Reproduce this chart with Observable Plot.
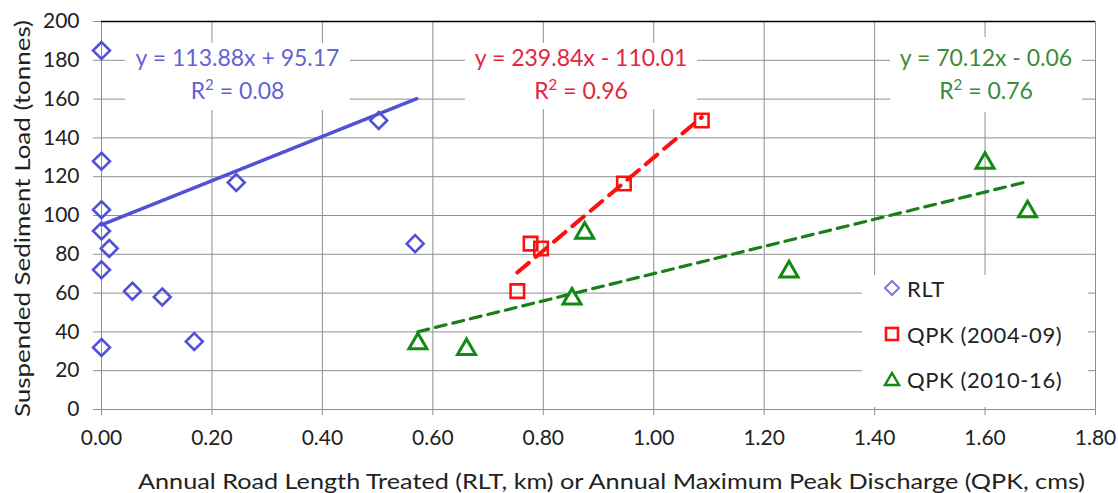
<!DOCTYPE html>
<html><head><meta charset="utf-8">
<script src="https://cdn.jsdelivr.net/npm/d3@7"></script>
<script src="https://cdn.jsdelivr.net/npm/@observablehq/plot@0.6"></script>
<style>
body{margin:0;background:#fff;}
#wrap{position:relative;width:1118px;height:493px;font-family:Lato,"Open Sans",sans-serif;}
#wrap svg{display:block}
.box{position:absolute;background:#fff;text-align:center;font-size:23px;line-height:33px;white-space:nowrap;}
.leg{position:absolute;background:#fff;}
.row{position:absolute;left:0;height:30px;display:flex;align-items:center;font-size:22px;letter-spacing:0.6px;color:#222;white-space:nowrap;}
.row svg{margin-left:21px;margin-right:6px}
</style>
</head><body><div id="wrap"></div>
<script>
// ---- data ----
const xTicks = [0, 0.2, 0.4, 0.6, 0.8, 1.0, 1.2, 1.4, 1.6, 1.8];
const yTicks = [0, 20, 40, 60, 80, 100, 120, 140, 160, 180, 200];
const seriesNames = ["RLT", "QPK (2004-09)", "QPK (2010-16)"];
const seriesColors = ["#5050d8", "#ff1010", "#118a11"];
const textColors = ["#6262d6", "#e3263b", "#3a8c3a"];

const rltX = [0, 0, 0, 0, 0.014, 0, 0.056, 0.110, 0, 0.168, 0.244, 0.502, 0.568];
const rltY = [185, 128, 103, 92, 83, 72, 61, 58, 32, 35, 117, 149, 85.5];
const qpk1X = [0.753, 0.777, 0.796, 0.946, 1.087];
const qpk1Y = [61, 85.5, 83, 116.5, 149];
const qpk2X = [0.573, 0.661, 0.852, 0.875, 1.245, 1.600, 1.677];
const qpk2Y = [34, 31, 57, 91, 71, 127, 102];

// trend line end points (as drawn)
const trendX = [[0, 0.571], [0.753, 1.087], [0.573, 1.68]];
const trendY = [[95.17, 160.2], [70.6, 150.7], [40.1, 117.7]];
const equations = ["y = 113.88x + 95.17", "y = 239.84x - 110.01", "y = 70.12x - 0.06"];
const rSquared = ["0.08", "0.96", "0.76"];

const xTitle = "Annual Road Length Treated (RLT, km) or Annual Maximum Peak Discharge (QPK, cms)";
const yTitle = "Suspended Sediment Load (tonnes)";

// ---- build ----
const pts = (xs, ys) => xs.map((x, i) => ({x, y: ys[i]}));
const trend = k => trendX[k].map((x, i) => ({x, y: trendY[k][i]}));
const grid = "#8f8f8f";

const plot = Plot.plot({
  width: 1118, height: 493,
  marginLeft: 101, marginRight: 23, marginTop: 21, marginBottom: 84,
  style: {fontFamily: "Lato, 'Open Sans', sans-serif", fontSize: "20px", color: "#222", background: "white", overflow: "visible"},
  x: {domain: [0, 1.8]},
  y: {domain: [0, 200]},
  marks: [
    Plot.gridX(xTicks, {stroke: grid, strokeOpacity: 1}),
    Plot.gridY(yTicks, {stroke: grid, strokeOpacity: 1}),
    Plot.axisX(xTicks, {tickFormat: d3.format(".2f"), tickSize: 6, tickPadding: 15, stroke: grid, fill: "#222", fontSize: 21, label: null}),
    Plot.axisY(yTicks, {tickSize: 8, tickPadding: 14, stroke: grid, fill: "#222", fontSize: 21, label: null}),
    Plot.ruleY([200], {stroke: "black", strokeWidth: 1.3}),
    Plot.text([xTitle], {frameAnchor: "bottom", dy: 79, dx: 13, fontSize: 22, fill: "#222"}),
    Plot.text([yTitle], {frameAnchor: "left", rotate: -90, textAnchor: "middle", dx: -79, dy: 3, fontSize: 22, fill: "#222"}),
    Plot.line(trend(0), {x: "x", y: "y", stroke: seriesColors[0], strokeWidth: 3.5}),
    Plot.line(trend(1), {x: "x", y: "y", stroke: seriesColors[1], strokeWidth: 4, strokeDasharray: "15,9"}),
    Plot.line(trend(2), {x: "x", y: "y", stroke: "#1a7f1a", strokeWidth: 3.2, strokeDasharray: "11,7"}),
    Plot.dot(pts(rltX, rltY), {x: "x", y: "y", symbol: "diamond2", r: 7.6, stroke: seriesColors[0], strokeWidth: 2.6}),
    Plot.dot(pts(qpk1X, qpk1Y), {x: "x", y: "y", symbol: "square2", r: 8.6, stroke: seriesColors[1], strokeWidth: 2.6}),
    Plot.dot(pts(qpk2X, qpk2Y), {x: "x", y: "y", symbol: "triangle2", r: 8.6, stroke: seriesColors[2], strokeWidth: 3})
  ]
});
// stretch the axis titles to the reference's widths
d3.select(plot).selectAll("text").each(function () {
  if (this.textContent === xTitle) d3.select(this).attr("textLength", 947).attr("lengthAdjust", "spacingAndGlyphs");
  if (this.textContent === yTitle) d3.select(this).attr("textLength", 397).attr("lengthAdjust", "spacingAndGlyphs");
});
const wrap = document.getElementById("wrap");
wrap.appendChild(plot);

// equation labels (white boxes over the grid)
const boxes = [
  {left: 125, top: 43, width: 225, height: 67},
  {left: 465, top: 43, width: 232, height: 66},
  {left: 890, top: 37, width: 192, height: 75}
];
const boxShift = [-2, -2, 4];
boxes.forEach((b, k) => {
  const d = document.createElement("div");
  d.className = "box";
  Object.assign(d.style, {left: b.left + "px", top: b.top + "px", width: b.width + "px", height: b.height + "px", color: textColors[k]});
  d.innerHTML = `<div style="position:relative;top:${boxShift[k]}px"><div>${equations[k]}</div><div>R<sup style="font-size:15px;line-height:0;vertical-align:9px">2</sup> = ${rSquared[k]}</div></div>`;
  wrap.appendChild(d);
});

// legend
const leg = document.createElement("div");
leg.className = "leg";
Object.assign(leg.style, {left: "862px", top: "275px", width: "226px", height: "132px"});
const swatches = [
  `<svg width="18" height="18"><path d="M9,2 L16,9 L9,16 L2,9Z" fill="none" stroke="#7a7ae0" stroke-width="2"/></svg>`,
  `<svg width="18" height="18"><rect x="3" y="3" width="12" height="12" fill="none" stroke="#ff1010" stroke-width="2.6"/></svg>`,
  `<svg width="18" height="18"><path d="M9,3 L16,15 L2,15Z" fill="none" stroke="#118a11" stroke-width="2.4"/></svg>`
];
const rowTop = [-2, 44, 89];
seriesNames.forEach((n, k) => {
  const r = document.createElement("div");
  r.className = "row";
  r.style.top = rowTop[k] + "px";
  r.innerHTML = swatches[k] + `<span>${n}</span>`;
  leg.appendChild(r);
});
wrap.appendChild(leg);
</script>
</body></html>
